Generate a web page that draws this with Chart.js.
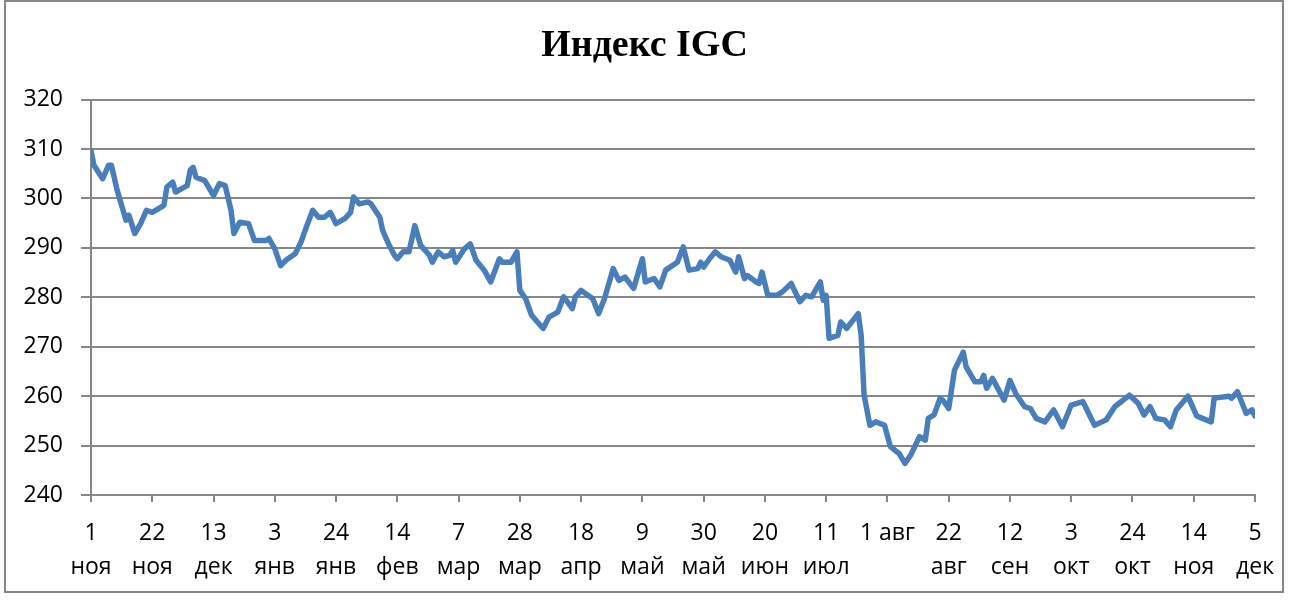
<!DOCTYPE html>
<html>
<head>
<meta charset="utf-8">
<script src="https://cdn.jsdelivr.net/npm/chart.js@4"></script>
<style>
     body { margin: 0; background: #fff; }
     #box {
          position: absolute; left: 4px; top: 0px;
          width: 1280px; height: 593px;
          border: 2px solid #878787; box-sizing: border-box;
     }
</style>
</head>
<body>
<div id="box"><canvas id="myChart"></canvas></div>
<script>
// day number from 1 Nov (0) to 5 Dec next year (399)
const days = [
     0, 1, 4, 6, 7, 9, 11, 12, 13, 15, 17, 19, 21, 23, 25, 26, 28, 29, 32, 33,
     34, 35, 36, 39, 42, 44, 46, 48, 49, 51, 54, 56, 57, 60, 61, 63, 65, 67, 70, 72,
     74, 76, 78, 80, 82, 84, 87, 89, 90, 92, 95, 96, 99, 100, 102, 104, 105, 107, 109, 111,
     113, 116, 117, 119, 121, 123, 124, 125, 128, 130, 132, 135, 137, 140, 141, 144, 146, 147, 149, 151,
     153, 155, 157, 160, 162, 165, 166, 168, 172, 174, 176, 179, 181, 183, 186, 189, 190, 193, 195, 197,
     201, 203, 205, 208, 209, 210, 212, 214, 216, 219, 221, 222, 224, 225, 228, 229, 230, 232, 235, 237,
     240, 243, 245, 247, 250, 251, 252, 253, 256, 257, 259, 263, 264, 265, 267, 269, 272, 274, 277, 279,
     281, 284, 286, 287, 289, 291, 292, 294, 296, 299, 300, 303, 305, 306, 307, 309, 313, 315, 317, 320,
     322, 324, 327, 330, 333, 336, 340, 342, 344, 348, 351, 356, 359, 361, 363, 365, 368, 370, 372, 376,
     379, 381, 384, 385, 390, 391, 393, 396, 398, 399
];
const igcValues = [
     309.7, 306.7, 304.0, 306.7, 306.7, 301.6, 297.6, 295.6, 296.6, 292.9, 294.9, 297.6, 297.2, 297.9, 298.6, 302.3, 303.3, 301.3, 302.3, 302.6,
     305.7, 306.3, 304.3, 303.6, 300.6, 303.0, 302.6, 297.6, 292.9, 295.2, 294.9, 291.5, 291.5, 291.5, 291.9, 289.8, 286.4, 287.6, 288.8, 291.2,
     294.5, 297.6, 296.2, 296.2, 297.2, 294.9, 295.9, 297.2, 300.3, 298.9, 299.3, 298.9, 296.2, 293.5, 290.8, 288.5, 287.8, 289.2, 289.2, 294.5,
     290.5, 288.5, 287.1, 289.2, 288.2, 288.5, 289.5, 287.1, 289.8, 290.8, 287.5, 285.3, 283.1, 287.8, 287.1, 287.1, 289.2, 281.4, 279.7, 276.4,
     275.0, 273.7, 276.0, 277.0, 280.1, 277.7, 280.1, 281.4, 279.7, 276.7, 279.7, 285.8, 283.4, 284.1, 281.8, 287.8, 283.1, 283.8, 282.1, 285.5,
     287.1, 290.2, 285.5, 285.8, 287.1, 286.1, 287.8, 289.2, 288.2, 287.5, 285.1, 288.2, 283.8, 284.4, 283.1, 282.8, 285.1, 280.4, 280.4, 281.1,
     282.8, 279.1, 280.4, 280.1, 283.1, 279.4, 280.4, 271.7, 272.3, 275.0, 273.7, 276.7, 272.3, 260.2, 254.1, 254.8, 254.1, 249.8, 248.4, 246.4,
     248.1, 251.8, 251.1, 255.5, 256.2, 259.5, 259.2, 257.5, 265.3, 268.9, 265.9, 262.9, 262.9, 264.2, 261.6, 263.6, 259.2, 263.2, 260.5, 257.9,
     257.5, 255.5, 254.8, 257.2, 253.8, 258.2, 258.9, 256.5, 254.1, 255.2, 257.9, 260.2, 258.5, 256.2, 257.9, 255.5, 255.2, 253.8, 257.2, 260.0,
     256.0, 255.5, 254.8, 259.6, 260.0, 259.6, 260.9, 256.5, 257.2, 256.0
];
const tickDays = [0, 21, 42, 63, 84, 105, 126, 147, 168, 189, 210, 231, 252, 273, 294, 315, 336, 357, 378, 399];
const tickLabels = [
     ["1", "ноя"], ["22", "ноя"], ["13", "дек"], ["3", "янв"], ["24", "янв"],
     ["14", "фев"], ["7", "мар"], ["28", "мар"], ["18", "апр"], ["9", "май"],
     ["30", "май"], ["20", "июн"], ["11", "июл"], ["1 авг"], ["22", "авг"],
     ["12", "сен"], ["3", "окт"], ["24", "окт"], ["14", "ноя"], ["5", "дек"]
];

const gray = "#878787";
const points = days.map((d, i) => ({ x: d, y: igcValues[i] }));

// title sits centred on the whole frame, not on the padded area
const titleShift = {
     id: "titleShift",
     afterLayout(chart) {
          if (chart.titleBlock) {
               chart.titleBlock.left += 9;
               chart.titleBlock.right += 9;
          }
     }
};

const data = {
     datasets: [{
          label: "IGC",
          data: points,
          borderColor: "#4a7ebb",
          borderWidth: 5.5,
          borderJoinStyle: "round",
          borderCapStyle: "round",
          pointRadius: 0,
          tension: 0
     }]
};

const config = {
     type: "line",
     data: data,
     plugins: [titleShift],
     options: {
          responsive: false,
          animation: false,
          layout: { padding: { left: 10, right: 27, top: 0, bottom: 0 } },
          plugins: {
               legend: { display: false },
               tooltip: { enabled: false },
               title: {
                    display: true,
                    text: "Индекс IGC",
                    color: "#000",
                    font: { family: "Liberation Serif", size: 38, weight: "bold" },
                    padding: { top: 21, bottom: 31 }
               }
          },
          scales: {
               x: {
                    type: "linear",
                    min: 0,
                    max: 399,
                    afterBuildTicks: (scale) => {
                         scale.ticks = tickDays.map(v => ({ value: v }));
                    },
                    afterFit: (scale) => {
                         scale.height = 96;
                         scale.paddingLeft = 0;
                         scale.paddingRight = 0;
                    },
                    grid: { drawOnChartArea: false, drawTicks: true, tickLength: 7, color: gray, lineWidth: 2 },
                    border: { color: gray, width: 2 },
                    ticks: {
                         autoSkip: false,
                         maxRotation: 0,
                         padding: 14,
                         color: "#000",
                         font: { family: "Open Sans", size: 23, lineHeight: 1.48 },
                         callback: (value) => {
                              const i = tickDays.indexOf(value);
                              return i >= 0 ? tickLabels[i] : "";
                         }
                    }
               },
               y: {
                    min: 240,
                    max: 320,
                    afterFit: (scale) => { scale.width = 75; },
                    grid: { color: gray, lineWidth: 2, tickLength: 10 },
                    border: { color: gray, width: 2 },
                    ticks: {
                         stepSize: 10,
                         padding: 18,
                         color: "#000",
                         font: { family: "Open Sans", size: 23 }
                    }
               }
          }
     }
};

const canvas = document.getElementById("myChart");
canvas.width = 1276;
canvas.height = 589;
canvas.style.width = "1276px";
canvas.style.height = "589px";
const myChart = new Chart(canvas, config);
</script>
</body>
</html>
